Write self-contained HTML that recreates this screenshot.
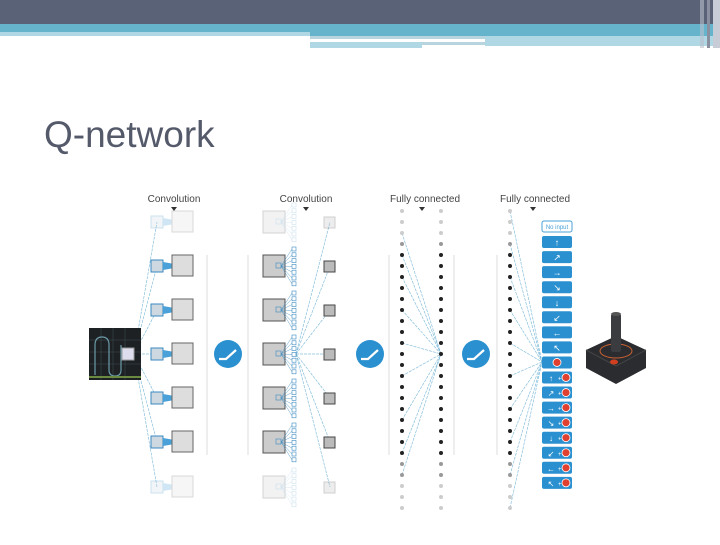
<!DOCTYPE html>
<html><head><meta charset="utf-8"><style>
body{margin:0;width:720px;height:540px;overflow:hidden;background:#fff;font-family:"Liberation Sans",sans-serif}
</style></head><body>
<svg id="s" width="720" height="540" xmlns="http://www.w3.org/2000/svg" font-family="Liberation Sans, sans-serif">
<rect x="0" y="0" width="720" height="24" fill="#5a6278"/>
<rect x="0" y="24" width="720" height="12" fill="#66b4cc"/>
<rect x="0" y="32" width="310" height="4" fill="#b0d8e4"/>
<rect x="310" y="36" width="175" height="3" fill="#b8d4de"/>
<rect x="310" y="42" width="112" height="6" fill="#b0d8e4"/>
<rect x="422" y="42" width="90" height="3" fill="#b8d4de"/>
<rect x="485" y="36" width="230" height="10" fill="#b0d8e4"/>
<rect x="700" y="0" width="4" height="48" fill="#b8c0cc" opacity="0.6"/>
<rect x="707" y="0" width="3" height="48" fill="#8a90a0"/>
<rect x="713" y="0" width="7" height="48" fill="#c8ccd6"/>
<text x="44" y="147" font-size="37" fill="#555a6a">Q-network</text>
<g font-size="10" fill="#444" text-anchor="middle">
<text x="174" y="202">Convolution</text>
<text x="306" y="202">Convolution</text>
<text x="425" y="202">Fully connected</text>
<text x="535" y="202">Fully connected</text>
</g>
<g fill="#333"><path d="M171 207h6l-3 4z"/><path d="M303 207h6l-3 4z"/><path d="M419 207h6l-3 4z"/><path d="M530 207h6l-3 4z"/></g>
<g stroke="#ddd" stroke-width="1">
<line x1="207" y1="255" x2="207" y2="455"/><line x1="248" y1="255" x2="248" y2="455"/>
<line x1="389" y1="255" x2="389" y2="455"/><line x1="454" y1="255" x2="454" y2="455"/>
<line x1="497" y1="255" x2="497" y2="455"/>
</g>
<g id="g"></g>
<rect x="89" y="328" width="52" height="52" fill="#1e2124"/>
<g stroke="#3a4a50" stroke-width="0.6"><line x1="89" y1="340" x2="141" y2="340"/><line x1="89" y1="352" x2="141" y2="352"/><line x1="89" y1="364" x2="141" y2="364"/><line x1="101" y1="328" x2="101" y2="380"/><line x1="113" y1="328" x2="113" y2="380"/><line x1="125" y1="328" x2="125" y2="380"/></g>
<path d="M95 375V345q0-8 7-8t7 8v25q0 6 6 6t6-6V345" stroke="#6a9aa8" fill="none" stroke-width="1.2"/>
<rect x="89" y="376" width="52" height="2" fill="#6a8a40"/>
<rect x="122" y="348" width="12" height="12" fill="#dde" stroke="#999"/>
<g fill="#2a90d0"><circle cx="228" cy="354" r="14"/><circle cx="370" cy="354" r="14"/><circle cx="476" cy="354" r="14"/></g>
<g stroke="#fff" stroke-width="2.2" fill="none"><path d="M219 359h7l10-9"/><path d="M361 359h7l10-9"/><path d="M467 359h7l10-9"/></g>
<path d="M586 350l30-14 30 14v18l-30 16-30-16z" fill="#2a2c30"/>
<path d="M586 350l30 16 30-16" fill="none" stroke="#444"/>
<ellipse cx="616" cy="351" rx="16" ry="7" fill="none" stroke="#c86030"/>
<rect x="611" y="314" width="10" height="38" rx="2" fill="#3a3c40"/>
<ellipse cx="616" cy="314" rx="5" ry="2" fill="#555"/>
<ellipse cx="614" cy="362" rx="4" ry="2.5" fill="#d04020"/>
</svg>
<script>
const g=document.getElementById('g');let h='';
const rows=[222,266,310,354,398,442,487];
function L(a,b,c,d,o){h+=`<line x1="${a}" y1="${b}" x2="${c}" y2="${d}" stroke="#7ab8d8" stroke-width="0.7" stroke-dasharray="3,1" opacity="${o||0.9}"/>`}
rows.forEach(y=>{L(134,354,157,y);});
rows.forEach(y=>{L(296,354,330,y);});
[2,4,6,9,12,15,19,22,24].forEach(i=>L(402,211+i*11,441,354));
for(let i=0;i<28;i+=3){L(510,211+i*11,542,362)}
rows.forEach((y,i)=>{const f=(i==0||i==6)?0.25:1;
h+=`<g opacity="${f}"><rect x="151" y="${y-6}" width="12" height="12" fill="#cdd8e0" stroke="#3a8ac0"/>
<path d="M163 ${y-4}L186 ${y}L163 ${y+4}z" fill="#4aa0d8"/>
<rect x="172" y="${y-11}" width="21" height="21" fill="#ddd" stroke="#666"/></g>`;});
rows.forEach((y,i)=>{const f=(i==0||i==6)?0.25:1;
h+=`<g opacity="${f}"><rect x="263" y="${y-11}" width="22" height="22" fill="#ccc" stroke="#555"/><rect x="276" y="${y-3}" width="5" height="5" fill="none" stroke="#3a8ac0" stroke-width="0.6"/>`;
for(let k=0;k<7;k++){const yy=y-19+k*5.8;h+=`<rect x="292" y="${yy}" width="4" height="4" fill="none" stroke="#3a8ac0" stroke-width="0.6"/><line x1="281" y1="${y}" x2="292" y2="${yy+2}" stroke="#3a8ac0" stroke-width="0.4"/>`}
h+=`<rect x="324" y="${y-5}" width="11" height="11" fill="#bbb" stroke="#444"/></g>`;});
for(let i=0;i<28;i++){const y=211+i*11;let c='#222';if(i<3||i>24)c='#ccc';else if(i==3||i==24||i==23)c='#999';
[402,441,510].forEach(x=>h+=`<circle cx="${x}" cy="${y}" r="2" fill="${c}"/>`);}
const labs=['No input','↑','↗','→','↘','↓','↙','←','↖','●','↑','↗','→','↘','↓','↙','←','↖'];
labs.forEach((t,i)=>{const y=221+i*15.05;
if(i==0){h+=`<rect x="542" y="${y}" width="30" height="11" rx="2" fill="#fff" stroke="#4aa0d8"/><text x="557" y="${y+8}" font-size="6" fill="#4aa0d8" text-anchor="middle">No input</text>`;return;}
h+=`<rect x="542" y="${y}" width="30" height="12" rx="2" fill="#2a90d0"/>`;
if(i==9)h+=`<circle cx="557" cy="${y+6}" r="4" fill="#e04030" stroke="#fff" stroke-width="0.8"/>`;
else if(i<9)h+=`<text x="557" y="${y+9.5}" font-size="9" fill="#fff" text-anchor="middle">${t}</text>`;
else h+=`<text x="551" y="${y+9.5}" font-size="8" fill="#fff" text-anchor="middle">${t}</text><text x="558" y="${y+9}" font-size="6" fill="#fff">+</text><circle cx="566" cy="${y+6}" r="4" fill="#e04030" stroke="#fff" stroke-width="0.8"/>`;
});
g.innerHTML=h;
</script>
</body></html>
